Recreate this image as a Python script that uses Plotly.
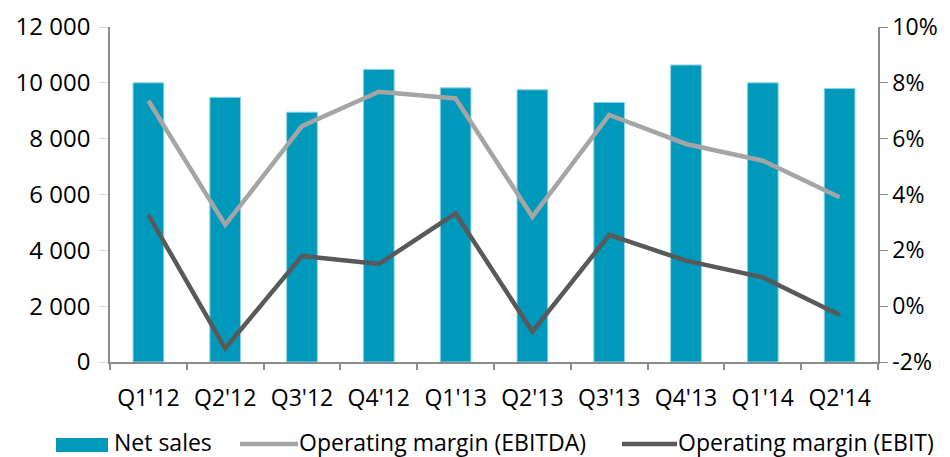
import plotly.graph_objects as go

quarters = ["Q1'12", "Q2'12", "Q3'12", "Q4'12", "Q1'13", "Q2'13", "Q3'13", "Q4'13", "Q1'14", "Q2'14"]
net_sales = [10000, 9480, 8950, 10480, 9820, 9750, 9300, 10640, 10000, 9800]
ebitda_margin = [7.36, 2.91, 6.45, 7.68, 7.44, 3.20, 6.85, 5.81, 5.21, 3.90]
ebit_margin = [3.27, -1.51, 1.80, 1.51, 3.32, -0.91, 2.55, 1.63, 1.03, -0.32]
left_ticks = [0, 2000, 4000, 6000, 8000, 10000, 12000]
left_labels = ["0", "2 000", "4 000", "6 000", "8 000", "10 000", "12 000"]
right_ticks = [-2, 0, 2, 4, 6, 8, 10]
right_labels = ["-2%", "0%", "2%", "4%", "6%", "8%", "10%"]
legend_names = ["Net sales", "Operating margin (EBITDA)", "Operating margin (EBIT)"]

BAR = "#0099BC"
GRAY_L = "#A5A5A5"
GRAY_D = "#595959"
AX = "#8C8C8C"
FONT = "Open Sans"
FS = 23

W, H = 950, 457
ML, MR, MT, MB = 110, 72, 27, 95
PW, PH = W - ML - MR, H - MT - MB

def px(x):
    return (x - ML) / PW

def py(y):
    return (MT + PH - y) / PH

fig = go.Figure()
fig.add_trace(go.Bar(x=quarters, y=net_sales, name=legend_names[0], marker=dict(color=BAR, line=dict(color="#8ED3E3", width=1)), width=0.4, yaxis="y"))
fig.add_trace(go.Scatter(x=quarters, y=ebitda_margin, name=legend_names[1], mode="lines", line=dict(color=GRAY_L, width=4.5), yaxis="y2"))
fig.add_trace(go.Scatter(x=quarters, y=ebit_margin, name=legend_names[2], mode="lines", line=dict(color=GRAY_D, width=4.5), yaxis="y2"))

fig.update_layout(
    width=W, height=H,
    margin=dict(l=ML, r=MR, t=MT, b=MB),
    plot_bgcolor="white", paper_bgcolor="white",
    showlegend=False,
    font=dict(family=FONT, size=FS, color="#000000"),
    xaxis=dict(automargin=False, showline=True, linecolor=AX, linewidth=1.5, ticks="outside", tickson="boundaries", ticklen=6, tickcolor=AX, tickwidth=1.5, showgrid=False, tickfont=dict(size=FS), range=[-0.5, 9.5], ticklabelstandoff=15),
    yaxis=dict(automargin=False, range=[0, 12000], tickvals=left_ticks, ticktext=left_labels, showline=True, linecolor=AX, linewidth=1.5, ticks="outside", ticklen=9, tickcolor="#D9D9D9", showgrid=False, zeroline=False, ticklabelstandoff=4, tickfont=dict(size=24)),
    yaxis2=dict(automargin=False, range=[-2, 10], tickvals=right_ticks, ticktext=right_labels, overlaying="y", side="right", showline=True, linecolor=AX, linewidth=1.5, ticks="outside", ticklen=8, tickcolor=AX, showgrid=False, zeroline=False, tickfont=dict(size=FS)),
    bargap=0.6,
)

# manual legend
shapes = [
    dict(type="rect", xref="paper", yref="paper", x0=px(56), x1=px(108), y0=py(452), y1=py(438), fillcolor=BAR, line=dict(width=0)),
    dict(type="line", xref="paper", yref="paper", x0=px(240), x1=px(298), y0=py(444), y1=py(444), line=dict(color=GRAY_L, width=4.5)),
    dict(type="line", xref="paper", yref="paper", x0=px(622), x1=px(677), y0=py(444), y1=py(444), line=dict(color=GRAY_D, width=4.5)),
]
fig.update_layout(shapes=shapes)
for xpos, name in zip([112, 297, 676], legend_names):
    fig.add_annotation(xref="paper", yref="paper", x=px(xpos), y=py(442), text=name, showarrow=False, xanchor="left", yanchor="middle", font=dict(size=FS, family=FONT, color="#000000"))

fig.write_html("out.html")
